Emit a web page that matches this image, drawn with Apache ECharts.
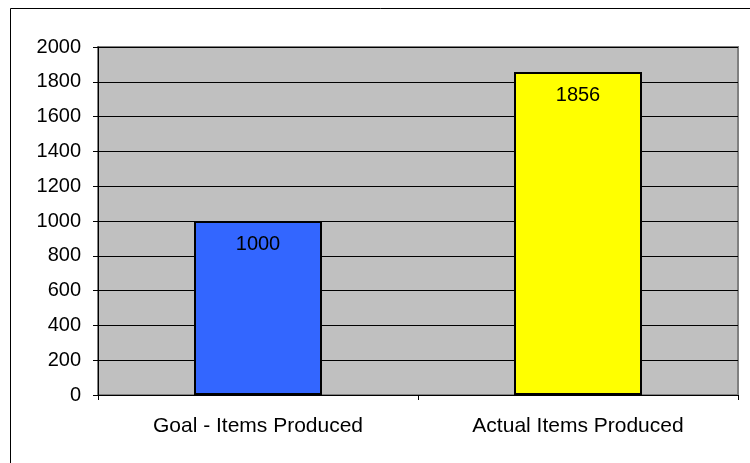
<!DOCTYPE html>
<html><head><meta charset="utf-8">
<script src="https://cdn.jsdelivr.net/npm/echarts@6/dist/echarts.min.js"></script>
<style>html,body{margin:0;padding:0;background:#fff}#c{width:750px;height:463px}</style>
</head><body><div id="c"></div>
<script>
var categories = ['Goal - Items Produced', 'Actual Items Produced'];
var values = [1000, 1856];
var barColors = ['#3366FF', '#FFFF00'];
var yTicks = [0, 200, 400, 600, 800, 1000, 1200, 1400, 1600, 1800, 2000];

var chart = echarts.init(document.getElementById('c'), null, {renderer: 'canvas'});
var font = 'Liberation Sans, Arial, sans-serif';
chart.setOption({
  animation: false,
  backgroundColor: '#fff',
  graphic: [{
    type: 'rect', shape: {x: 10.5, y: 8.5, width: 760, height: 480},
    style: {fill: 'none', stroke: '#000', lineWidth: 1}, silent: true, z: -10
  }],
  grid: {left: 98, top: 47, right: 12, bottom: 68, show: true, backgroundColor: '#C0C0C0', borderColor: '#808080', borderWidth: 2},
  xAxis: {
    type: 'category', data: categories,
    axisLine: {lineStyle: {color: '#000', width: 1}},
    axisTick: {show: true, length: 5, lineStyle: {color: '#000'}},
    axisLabel: {color: '#000', fontFamily: font, fontSize: 21, margin: 21}
  },
  yAxis: {
    type: 'value', min: yTicks[0], max: yTicks[yTicks.length - 1], interval: 200,
    axisLine: {show: true, lineStyle: {color: '#000', width: 1}},
    axisTick: {show: true, length: 5, lineStyle: {color: '#000'}},
    axisLabel: {color: '#000', fontFamily: font, fontSize: 20, margin: 17, formatter: function (v) { return String(v); }},
    splitLine: {lineStyle: {color: '#000', width: 1}}
  },
  series: [{
    type: 'bar', barWidth: '40%',
    data: values.map(function (v, i) {
      return {value: v, itemStyle: {color: barColors[i], borderColor: '#000', borderWidth: 2}};
    }),
    label: {show: true, position: 'insideTop', distance: 13, color: '#000', fontFamily: font, fontSize: 20}
  }]
});
</script></body></html>
